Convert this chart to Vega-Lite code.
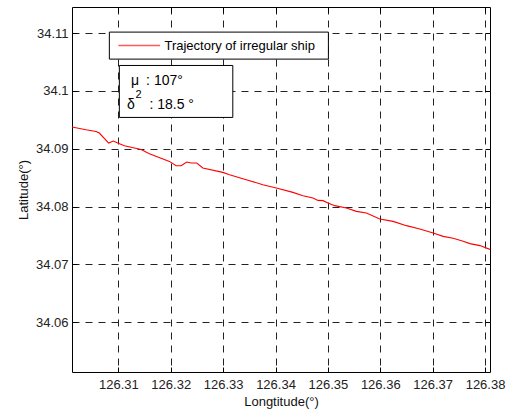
{
  "$schema": "https://vega.github.io/schema/vega-lite/v6.json",
  "width": 418,
  "height": 365,
  "autosize": {"type": "none"},
  "padding": {"left": 72, "top": 7, "right": 25, "bottom": 42},
  "background": "white",
  "config": {
    "view": {"stroke": "black", "strokeWidth": 1},
    "font": "Liberation Sans",
    "text": {"font": "Liberation Sans"}
  },
  "resolve": {"axis": {"x": "independent", "y": "independent"}},
  "datasets": {
    "track": [
      {"lon": 126.30115, "lat": 34.09375},
      {"lon": 126.30382, "lat": 34.09328},
      {"lon": 126.30574, "lat": 34.09299},
      {"lon": 126.30637, "lat": 34.09271},
      {"lon": 126.30815, "lat": 34.09098},
      {"lon": 126.30904, "lat": 34.09133},
      {"lon": 126.30987, "lat": 34.09098},
      {"lon": 126.31115, "lat": 34.09052},
      {"lon": 126.31434, "lat": 34.08985},
      {"lon": 126.31593, "lat": 34.08914},
      {"lon": 126.31975, "lat": 34.08781},
      {"lon": 126.32103, "lat": 34.08706},
      {"lon": 126.32199, "lat": 34.08706},
      {"lon": 126.32306, "lat": 34.0877},
      {"lon": 126.3239, "lat": 34.08753},
      {"lon": 126.32497, "lat": 34.08753},
      {"lon": 126.32612, "lat": 34.08667},
      {"lon": 126.32994, "lat": 34.08591},
      {"lon": 126.33122, "lat": 34.08551},
      {"lon": 126.33442, "lat": 34.08465},
      {"lon": 126.33759, "lat": 34.08378},
      {"lon": 126.34015, "lat": 34.08321},
      {"lon": 126.34333, "lat": 34.08245},
      {"lon": 126.34524, "lat": 34.08188},
      {"lon": 126.34715, "lat": 34.08149},
      {"lon": 126.34811, "lat": 34.08107},
      {"lon": 126.34906, "lat": 34.08102},
      {"lon": 126.35002, "lat": 34.08062},
      {"lon": 126.3513, "lat": 34.08016},
      {"lon": 126.35354, "lat": 34.07976},
      {"lon": 126.35545, "lat": 34.07917},
      {"lon": 126.35736, "lat": 34.07889},
      {"lon": 126.3599, "lat": 34.07786},
      {"lon": 126.36245, "lat": 34.07744},
      {"lon": 126.36501, "lat": 34.0767},
      {"lon": 126.36755, "lat": 34.07613},
      {"lon": 126.3701, "lat": 34.07544},
      {"lon": 126.37201, "lat": 34.07485},
      {"lon": 126.37392, "lat": 34.07451},
      {"lon": 126.37583, "lat": 34.07399},
      {"lon": 126.37711, "lat": 34.07359},
      {"lon": 126.37902, "lat": 34.07325},
      {"lon": 126.38095, "lat": 34.0726}
    ]
  },
  "layer": [
    {
      "data": {"name": "track"},
      "mark": {"type": "line", "color": "#ff0000", "strokeWidth": 1.1, "clip": true},
      "encoding": {
        "x": {
          "field": "lon",
          "type": "quantitative",
          "scale": {"domain": [126.30115, 126.38095], "nice": false, "zero": false},
          "axis": {
            "orient": "bottom",
            "values": [126.31, 126.32, 126.33, 126.34, 126.35, 126.36, 126.37, 126.38],
            "format": ".2~f",
            "title": "Longtitude(°)",
            "grid": true,
            "gridColor": "#222222",
            "gridDash": [7, 6],
            "gridWidth": 1,
            "domain": false,
            "ticks": true,
            "tickSize": -5,
            "tickColor": "black",
            "labelFont": "Liberation Sans",
            "labelFontSize": 13,
            "labelColor": "#222222",
            "labelPadding": 11,
            "titleFont": "Liberation Sans",
            "titleFontSize": 13,
            "titleFontWeight": "normal",
            "titleColor": "#111111",
            "titlePadding": 4
          }
        },
        "y": {
          "field": "lat",
          "type": "quantitative",
          "scale": {"domain": [34.0514, 34.1145], "nice": false, "zero": false},
          "axis": {
            "orient": "left",
            "values": [34.06, 34.07, 34.08, 34.09, 34.1, 34.11],
            "format": ".2~f",
            "title": "Latitude(°)",
            "grid": true,
            "gridColor": "#222222",
            "gridDash": [7, 6],
            "gridWidth": 1,
            "domain": false,
            "ticks": true,
            "tickSize": -5,
            "tickColor": "black",
            "labelFont": "Liberation Sans",
            "labelFontSize": 13,
            "labelColor": "#222222",
            "labelPadding": 9,
            "titleFont": "Liberation Sans",
            "titleFontSize": 13,
            "titleFontWeight": "normal",
            "titleColor": "#111111",
            "titlePadding": 5
          }
        },
        "order": {"field": "lon"}
      }
    },
    {
      "data": {"values": [{}]},
      "mark": {"type": "rect", "fill": "white", "stroke": "black", "strokeWidth": 1},
      "encoding": {
        "x": {
          "datum": 126.30828,
          "type": "quantitative",
          "axis": {
            "orient": "top",
            "values": [126.31, 126.32, 126.33, 126.34, 126.35, 126.36, 126.37, 126.38],
            "labels": false,
            "domain": false,
            "grid": false,
            "ticks": true,
            "tickSize": -5,
            "tickColor": "black",
            "title": null
          }
        },
        "x2": {"datum": 126.3501},
        "y": {
          "datum": 34.11016,
          "type": "quantitative",
          "axis": {
            "orient": "right",
            "values": [34.06, 34.07, 34.08, 34.09, 34.1, 34.11],
            "labels": false,
            "domain": false,
            "grid": false,
            "ticks": true,
            "tickSize": -5,
            "tickColor": "black",
            "title": null
          }
        },
        "y2": {"datum": 34.10549}
      }
    },
    {
      "data": {"values": [{}]},
      "mark": {"type": "rule", "color": "#ff5a5a", "strokeWidth": 1.3},
      "encoding": {
        "x": {"datum": 126.31, "type": "quantitative", "axis": null},
        "x2": {"datum": 126.31797},
        "y": {"datum": 34.10784, "type": "quantitative", "axis": null}
      }
    },
    {
      "data": {"values": [{}]},
      "mark": {"type": "text", "align": "left", "baseline": "middle", "fontSize": 13, "color": "black"},
      "encoding": {
        "x": {"datum": 126.3188, "type": "quantitative", "axis": null},
        "y": {"datum": 34.10784, "type": "quantitative", "axis": null},
        "text": {"value": "Trajectory of irregular ship"}
      }
    },
    {
      "data": {"values": [{}]},
      "mark": {"type": "rect", "fill": "white", "stroke": "black", "strokeWidth": 1},
      "encoding": {
        "x": {"datum": 126.31019, "type": "quantitative", "axis": null},
        "x2": {"datum": 126.33185},
        "y": {"datum": 34.10439, "type": "quantitative", "axis": null},
        "y2": {"datum": 34.09541}
      }
    },
    {
      "data": {"values": [{}]},
      "mark": {"type": "text", "align": "left", "baseline": "middle", "fontSize": 14, "color": "black"},
      "encoding": {
        "x": {"datum": 126.31243, "type": "quantitative", "axis": null},
        "y": {"datum": 34.10175, "type": "quantitative", "axis": null},
        "text": {"value": "μ"}
      }
    },
    {
      "data": {"values": [{}]},
      "mark": {"type": "text", "align": "left", "baseline": "middle", "fontSize": 14, "color": "black"},
      "encoding": {
        "x": {"datum": 126.3153, "type": "quantitative", "axis": null},
        "y": {"datum": 34.10175, "type": "quantitative", "axis": null},
        "text": {"value": ": 107°"}
      }
    },
    {
      "data": {"values": [{}]},
      "mark": {"type": "text", "align": "left", "baseline": "middle", "fontSize": 14, "color": "black"},
      "encoding": {
        "x": {"datum": 126.31166, "type": "quantitative", "axis": null},
        "y": {"datum": 34.09762, "type": "quantitative", "axis": null},
        "text": {"value": "δ"}
      }
    },
    {
      "data": {"values": [{}]},
      "mark": {"type": "text", "align": "left", "baseline": "middle", "fontSize": 11, "color": "black"},
      "encoding": {
        "x": {"datum": 126.31325, "type": "quantitative", "axis": null},
        "y": {"datum": 34.09925, "type": "quantitative", "axis": null},
        "text": {"value": "2"}
      }
    },
    {
      "data": {"values": [{}]},
      "mark": {"type": "text", "align": "left", "baseline": "middle", "fontSize": 14, "color": "black"},
      "encoding": {
        "x": {"datum": 126.31593, "type": "quantitative", "axis": null},
        "y": {"datum": 34.09762, "type": "quantitative", "axis": null},
        "text": {"value": ": 18.5 °"}
      }
    }
  ]
}
